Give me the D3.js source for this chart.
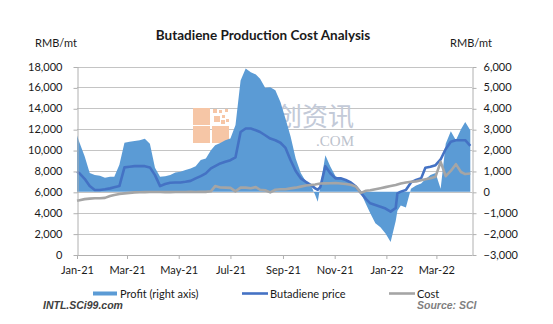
<!DOCTYPE html>
<html><head><meta charset="utf-8">
<script src="https://cdn.jsdelivr.net/npm/d3@7/dist/d3.min.js"></script>
<style>
body{margin:0;background:#fff}
svg text{font-family:Lato,"Open Sans",sans-serif;fill:#1a1a1a}
</style>
</head><body>
<svg id="chart" width="553" height="324"></svg>
<script>
// ---- data ----
const dates = [
 "2021-01-01","2021-01-04","2021-01-10","2021-01-16","2021-01-22","2021-01-28",
 "2021-02-03","2021-02-09","2021-02-14","2021-02-20","2021-02-26",
 "2021-03-04","2021-03-10","2021-03-16","2021-03-22","2021-03-28",
 "2021-04-03","2021-04-09","2021-04-15","2021-04-21","2021-04-27",
 "2021-05-03","2021-05-09","2021-05-15","2021-05-21","2021-05-27",
 "2021-06-02","2021-06-08","2021-06-13","2021-06-19","2021-06-25",
 "2021-07-01","2021-07-07","2021-07-13","2021-07-19","2021-07-25","2021-07-31",
 "2021-08-05","2021-08-11","2021-08-17","2021-08-23","2021-08-29",
 "2021-09-04","2021-09-10","2021-09-16","2021-09-22","2021-09-28",
 "2021-10-04","2021-10-09","2021-10-12","2021-10-15","2021-10-21","2021-10-27",
 "2021-11-02","2021-11-08","2021-11-14","2021-11-20","2021-11-26",
 "2021-12-02","2021-12-08","2021-12-13","2021-12-19","2021-12-25","2021-12-31",
 "2022-01-06","2022-01-12","2022-01-14","2022-01-18","2022-01-24","2022-01-30",
 "2022-02-05","2022-02-11","2022-02-16","2022-02-22","2022-02-28",
 "2022-03-06","2022-03-12","2022-03-18","2022-03-24","2022-03-30",
 "2022-04-04","2022-04-10"
];
const price = [
 7920,7760,7250,6550,6170,6170,
 6240,6330,6430,6550,8340,
 8400,8460,8460,8460,8340,
 7600,6550,6750,6870,6900,
 6900,6960,7050,7290,7510,
 7770,8240,8460,8720,8870,
 9030,9300,11730,12060,12060,11900,
 11730,11420,11100,10940,10700,
 10200,9030,8000,7290,6960,
 6650,6330,6200,6450,8460,7760,
 7290,7290,7130,6900,6500,
 5900,5300,4900,4740,4580,4400,
 4100,4450,5860,6020,6170,6900,
 7130,7290,8300,8400,8550,
 9100,10100,10800,10940,10940,
 10940,10400
];
const cost = [
 5150,5200,5300,5350,5380,5380,
 5420,5600,5700,5800,5850,
 5900,5950,5960,5970,5980,
 5980,5980,5970,5970,5980,
 5980,5990,6000,5990,6000,
 6000,6050,6550,6420,6400,
 6380,6050,6400,6400,6350,6450,
 6200,6150,5950,6200,6250,
 6250,6330,6400,6500,6600,
 6650,6700,6750,6800,6810,6820,
 6850,6800,6750,6680,6500,
 5900,6100,6150,6250,6350,6450,
 6550,6650,6700,6800,6900,6960,
 7000,7100,7200,7300,7450,
 8870,7500,8000,8650,7900,
 7700,7750
];
const profit = [
 2700,2350,1700,900,800,770,
 680,720,720,1300,2350,
 2400,2430,2470,2540,2300,
 1150,720,750,800,920,
 960,1040,1120,1230,1520,
 1600,1990,2230,2340,2470,
 2550,3200,5330,5900,5730,5620,
 5410,4980,5010,4860,4300,
 3500,2650,1600,900,500,
 320,-150,-480,250,1750,1200,
 750,640,560,420,200,
 -50,-600,-1030,-1500,-1700,-2000,
 -2400,-1400,-900,-650,-750,150,
 300,400,600,800,900,
 150,2300,2900,2470,3000,
 3340,2950
];
const leftTicks = [0,2000,4000,6000,8000,10000,12000,14000,16000,18000];
const rightTicks = [-3000,-2000,-1000,0,1000,2000,3000,4000,5000,6000];
const xTickDates = ["2021-01-01","2021-03-01","2021-05-01","2021-07-01","2021-09-01","2021-11-01","2022-01-01","2022-03-01"];
const xTickLabels = ["Jan-21","Mar-21","May-21","Jul-21","Sep-21","Nov-21","Jan-22","Mar-22"];
const seriesNames = ["Profit (right axis)","Butadiene price","Cost"];
const title = "Butadiene Production Cost Analysis";
const unitLabel = "RMB/mt";

// ---- build ----
const parse = d3.timeParse("%Y-%m-%d");
const rows = dates.map((d,i)=>({date:parse(d),price:price[i],cost:cost[i],profit:profit[i]}));
const svg = d3.select("#chart");
const X0=77, X1=472, Y0=254.5, Y1=66.5;
const x = d3.scaleTime().domain([parse("2021-01-01"),parse("2022-04-12")]).range([X0,X1]);
const yL = d3.scaleLinear().domain([0,18000]).range([Y0,Y1]);
const yR = d3.scaleLinear().domain([-3000,6000]).range([Y0,Y1]);
const C_AREA="#5b9bd5", C_PRICE="#4472c4", C_COST="#a5a5a5", C_GRID="#c4c4c4";

svg.append("rect").attr("width",553).attr("height",324).attr("fill","#fff");

// gridlines
svg.append("g").selectAll("line").data(leftTicks).join("line")
  .attr("x1",X0).attr("x2",X1).attr("y1",d=>Math.round(yL(d))+0.5).attr("y2",d=>Math.round(yL(d))+0.5)
  .attr("stroke",C_GRID).attr("stroke-width",1);

// watermark (behind series)
const wm = svg.append("g");
[[193,108,17,17],[193,126,17,17],[212,126,17,17]].forEach(r=>wm.append("rect").attr("x",r[0]).attr("y",r[1]).attr("width",r[2]).attr("height",r[3]).attr("fill","#f6c6a6"));
[[213,109,4,4],[219,110,3,3],[225,109,3,3],[214,116,6,6],[222,115,3,3],[226,119,3,3],[221,120,4,4]].forEach(r=>wm.append("rect").attr("x",r[0]).attr("y",r[1]).attr("width",r[2]).attr("height",r[3]).attr("fill","#f6c6a6"));
wm.append("text").attr("x",354).attr("y",126).attr("text-anchor","end").style("font-family","'Noto Sans CJK SC'").style("font-size","26px").style("fill","#c3cad8").text("创资讯");
wm.append("text").attr("x",354).attr("y",146).attr("text-anchor","end").style("font-family","'Liberation Serif',serif").style("font-size","15px").style("fill","#bcc2cc").text(".COM");

// profit area (right axis)
svg.append("path").datum(rows)
  .attr("d",d3.area().x(d=>x(d.date)).y0(yR(0)).y1(d=>yR(d.profit)))
  .attr("fill",C_AREA);

// price line
svg.append("path").datum(rows)
  .attr("d",d3.line().x(d=>x(d.date)).y(d=>yL(d.price)))
  .attr("fill","none").attr("stroke",C_PRICE).attr("stroke-width",2.6).attr("stroke-linejoin","round");
// cost line
svg.append("path").datum(rows)
  .attr("d",d3.line().x(d=>x(d.date)).y(d=>yL(d.cost)))
  .attr("fill","none").attr("stroke",C_COST).attr("stroke-width",2.6).attr("stroke-linejoin","round");

// axes
const fmt = d3.format(",");
const gl = svg.append("g").attr("transform",`translate(${X0+0.5},0)`)
  .call(d3.axisLeft(yL).tickValues(leftTicks).tickFormat(fmt).tickSize(4).tickSizeOuter(0).tickPadding(11));
const gr = svg.append("g").attr("transform",`translate(${X1+0.5},0)`)
  .call(d3.axisRight(yR).tickValues(rightTicks).tickFormat(fmt).tickSize(4).tickSizeOuter(0).tickPadding(7));
const gx = svg.append("g").attr("transform",`translate(0,${Y0+0.5})`)
  .call(d3.axisBottom(x).tickValues(xTickDates.map(parse)).tickFormat((d,i)=>xTickLabels[i]).tickSize(4).tickSizeOuter(0).tickPadding(7));
[gl,gr,gx].forEach(g=>{
  g.selectAll(".domain").attr("stroke","#b0b0b0");
  g.selectAll(".tick line").attr("stroke","#b0b0b0");
  g.selectAll(".tick text").style("font-family","Lato,sans-serif").style("font-size","11px").style("fill","#1a1a1a");
});
gl.selectAll(".tick line").attr("y1",0.5).attr("y2",0.5);
gr.selectAll(".tick line").attr("y1",0.5).attr("y2",0.5);

// titles
svg.append("text").attr("x",263).attr("y",40).attr("text-anchor","middle")
  .style("font-weight","bold").style("font-size","13.5px").text(title);
svg.append("text").attr("x",56).attr("y",46.5).attr("text-anchor","middle").style("font-size","11px").text(unitLabel);
svg.append("text").attr("x",471).attr("y",46.5).attr("text-anchor","middle").style("font-size","11px").text(unitLabel);

// legend
const lg = svg.append("g");
const lx = [93,242,389];
lg.append("rect").attr("x",lx[0]).attr("y",291.5).attr("width",24).attr("height",4).attr("fill",C_AREA);
lg.append("line").attr("x1",lx[1]).attr("x2",lx[1]+26).attr("y1",293.5).attr("y2",293.5).attr("stroke",C_PRICE).attr("stroke-width",2.6);
lg.append("line").attr("x1",lx[2]).attr("x2",lx[2]+26).attr("y1",293.5).attr("y2",293.5).attr("stroke",C_COST).attr("stroke-width",2.6);
seriesNames.forEach((n,i)=>lg.append("text").attr("x",lx[i]+(i===0?27:28)).attr("y",297.5).style("font-size","11px").text(n));

// footer
svg.append("text").attr("x",43).attr("y",309).style("font-family","'Liberation Sans',Arial,sans-serif")
  .style("font-weight","bold").style("font-style","italic").style("font-size","10.5px").style("fill","#404040").text("INTL.SCi99.com");
svg.append("text").attr("x",417).attr("y",309).style("font-family","'Liberation Sans',Arial,sans-serif")
  .style("font-weight","bold").style("font-style","italic").style("font-size","10.5px").style("fill","#7f7f7f").text("Source: SCI");
</script>
</body></html>
